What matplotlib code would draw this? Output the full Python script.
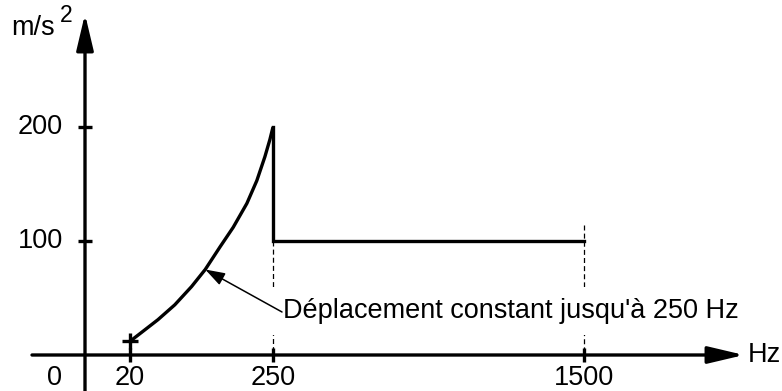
import numpy as np
import matplotlib
matplotlib.use("Agg")
import matplotlib.pyplot as plt

# ---- data ----
curve_freq = [20, 39, 65, 92, 119, 141, 165, 186, 208, 224, 237, 245, 250]
curve_acc = [12, 20, 31, 44, 60, 75, 95, 112, 133, 153, 174, 189, 200]
plateau_freq = [250, 250, 1500]
plateau_acc = [200, 100, 100]
x_ticks = [20, 250, 1500]
x_tick_labels = ["20", "250", "1500"]
y_ticks = [100, 200]
y_tick_labels = ["100", "200"]
annotation = "Déplacement constant jusqu'à 250 Hz"

# schematic (non-linear) frequency axis: piecewise linear
nodes_f = np.array([0.0, 20.0, 250.0, 1500.0])
nodes_p = np.array([85.0, 130.0, 273.0, 584.0])
sl_left = (nodes_p[1] - nodes_p[0]) / (nodes_f[1] - nodes_f[0])
sl_right = (nodes_p[-1] - nodes_p[-2]) / (nodes_f[-1] - nodes_f[-2])

def fwd(f):
    f = np.asarray(f, dtype=float)
    p = np.interp(f, nodes_f, nodes_p)
    p = np.where(f < nodes_f[0], nodes_p[0] + (f - nodes_f[0]) * sl_left, p)
    p = np.where(f > nodes_f[-1], nodes_p[-1] + (f - nodes_f[-1]) * sl_right, p)
    return p

def inv(p):
    p = np.asarray(p, dtype=float)
    f = np.interp(p, nodes_p, nodes_f)
    f = np.where(p < nodes_p[0], nodes_f[0] + (p - nodes_p[0]) / sl_left, f)
    f = np.where(p > nodes_p[-1], nodes_f[-1] + (p - nodes_p[-1]) / sl_right, f)
    return f

plt.rcParams['font.family'] = ['Liberation Sans', 'DejaVu Sans']
fig = plt.figure(figsize=(7.82, 3.91), dpi=100)
ax = fig.add_axes([0, 0, 1, 1])
ax.set_xscale('function', functions=(fwd, inv))
ax.set_xlim(inv(0.0), inv(782.0))
ypx = 1.14
ax.set_ylim((355 - 391) / ypx, 355 / ypx)
ax.axis('off')

def py(p):
    return (355 - p) / ypx

fs = 19.5
lw_axis = 2.4

# axes arrows
arrow_style = "-|>,head_length=2.2,head_width=0.52"
ax.annotate("", xy=(inv(744), 0), xytext=(inv(32), 0),
            arrowprops=dict(arrowstyle=arrow_style,
                            lw=lw_axis, color="black", shrinkA=0, shrinkB=0))
ax.annotate("", xy=(0, py(14)), xytext=(0, py(391)),
            arrowprops=dict(arrowstyle=arrow_style,
                            lw=lw_axis, color="black", shrinkA=0, shrinkB=0))

# ticks
ax.plot(x_ticks, [0] * len(x_ticks), ls="none", marker="|", ms=10, mew=2.4,
        color="black")
ax.plot([0] * len(y_ticks), y_ticks, ls="none", marker="_", ms=10, mew=2.4,
        color="black")

for xv, lab in zip(x_ticks, x_tick_labels):
    ax.text(xv, py(378), lab, ha="center", va="center", fontsize=fs)
ax.text(inv(54), py(378), "0", ha="center", va="center", fontsize=fs)
for yv, lab in zip(y_ticks, y_tick_labels):
    ax.text(inv(63), yv, lab, ha="right", va="center", fontsize=fs)

ax.text(inv(11), py(28), "m/s", ha="left", va="center", fontsize=fs)
ax.text(inv(60), py(15), "2", ha="left", va="center", fontsize=fs - 3)
ax.text(inv(748), 0, "Hz", ha="left", va="center", fontsize=fs)

# dashed guides
ax.plot([250, 250], [100, 0], ls=(0, (4, 2.5)), lw=0.9, color="black", zorder=1)
ax.plot([1500, 1500], [114, 0], ls=(0, (4, 2.5)), lw=0.9, color="black", zorder=1)

# curves
ax.plot(curve_freq, curve_acc, color="black", lw=2.4, solid_capstyle="butt",
        solid_joinstyle="round", zorder=3)
ax.plot(plateau_freq, plateau_acc, color="black", lw=2.4,
        solid_joinstyle="miter", zorder=3)
ax.plot([curve_freq[0]], [curve_acc[0]], marker="+", ms=11, mew=2.4,
        color="black", zorder=3)

# annotation text (white box hides the dashed guides) and leader arrow
ax.text(inv(283), py(311), annotation, fontsize=fs, ha="left", va="center",
        bbox=dict(boxstyle="square,pad=0.4", fc="white", ec="none"), zorder=2)
ax.annotate("", xy=(141, 75), xytext=(inv(282), py(312)),
            arrowprops=dict(arrowstyle="-|>,head_length=1.2,head_width=0.4",
                            lw=1.1, color="black", shrinkA=0, shrinkB=0),
            zorder=4)

fig.savefig("out.png", dpi=100)
